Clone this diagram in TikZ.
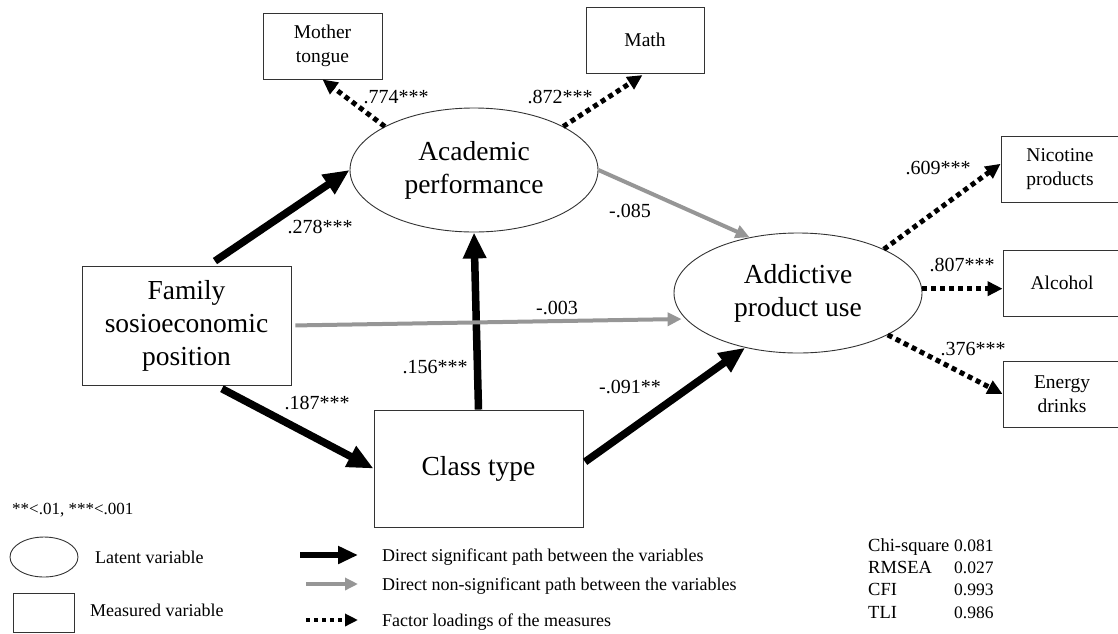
\documentclass[tikz,border=0pt]{standalone}
\usepackage{fontspec}
\setmainfont{Liberation Serif}
\usetikzlibrary{shapes.geometric,calc,arrows.meta}

\definecolor{pathgray}{RGB}{150,150,150}
\newcommand{\sizemain}{\fontsize{27.5}{33}\selectfont}
\newcommand{\sizebox}{\fontsize{19.5}{24}\selectfont}
\newcommand{\sizelab}{\fontsize{20}{24}\selectfont}
\newcommand{\sizeleg}{\fontsize{18}{22}\selectfont}

\begin{document}
\begin{tikzpicture}[x=1pt,y=-1pt,
  latent/.style={ellipse,draw=black!80,line width=0.9pt,inner sep=0pt,align=center,font=\sizemain},
  measured/.style={rectangle,draw=black!80,line width=0.9pt,inner sep=0pt,align=center},
  sig/.style={line width=7.5pt,-{Triangle[length=26pt,width=22pt]}},
  nsig/.style={pathgray,line width=4pt,-{Triangle[length=14pt,width=13pt]}},
  load/.style={line width=5pt,dash pattern=on 5pt off 4pt,-{Triangle[length=15pt,width=14pt]}},
  lbl/.style={font=\sizelab,inner sep=0pt},
  key/.style={font=\sizeleg,anchor=base west,inner sep=0pt}]
\useasboundingbox (0,0) rectangle (1118,633);
\clip (0,0) rectangle (1118,633);

% variables
\node[latent,minimum width=248pt,minimum height=124pt] (ap) at (474,170) {Academic\\performance};
\node[latent,minimum width=248pt,minimum height=120pt] (add) at (798,293) {Addictive\\product use};
\node[measured,minimum width=209pt,minimum height=119pt,font=\sizemain] (fsp) at (186.5,325.5) {Family\\sosioeconomic\\position};
\node[measured,minimum width=209pt,minimum height=117pt,font=\sizemain] (ct) at (478.5,468.5) {Class type};
\node[measured,minimum width=119pt,minimum height=66pt,font=\sizebox] (mt) at (322.5,46) {Mother\\tongue};
\node[measured,minimum width=118pt,minimum height=66pt,font=\sizebox] (math) at (645,40) {Math};
\node[measured,minimum width=118pt,minimum height=66pt,font=\sizebox] (nic) at (1060,169) {Nicotine\\products};
\node[measured,minimum width=118pt,minimum height=66pt,font=\sizebox] (alc) at (1062,283) {Alcohol};
\node[measured,minimum width=118pt,minimum height=66pt,font=\sizebox] (en) at (1062,394) {Energy\\drinks};

% paths
\draw[sig,shorten <=8pt] (fsp.70) -- (ap.west);
\draw[sig,shorten <=7pt] (fsp.-64) -- (ct.west);
\draw[sig] (ct.north) -- (ap.south);
\draw[sig,shorten <=2pt] (ct.3) -- (add.226);
\draw[nsig] (ap.east) -- (add.131);
\draw[nsig,shorten <=4pt,shorten >=4pt] (fsp.east) -- (add.193);

% factor loadings
\draw[load] (ap.154) -- (mt.south);
\draw[load,shorten >=3pt] (ap.26) -- (math.south);
\draw[load] (add.27) -- (nic.175);
\draw[load] (add.2) -- (alc.west|-add.2);
\draw[load] (add.-25) -- (en.west);

\node[lbl] (l774) at (396,97) {.774***};
\node[lbl] (l872) at (560,97) {.872***};
\node[lbl] (l278) at (320,227) {.278***};
\node[lbl] (l085) at (630,211) {-.085};
\node[lbl] (l003) at (557,308) {-.003};
\node[lbl] (l156) at (435,367) {.156***};
\node[lbl] (l187) at (317,403) {.187***};
\node[lbl] (l091) at (630,387) {-.091**};
\node[lbl] (l609) at (938,168) {.609***};
\node[lbl] (l807) at (962,265) {.807***};
\node[lbl] (l376) at (973,349) {.376***};

% legend
\node[key,font=\fontsize{17}{20}\selectfont] (pkey) at (12,514) {**<.01, ***<.001};
\node[latent,minimum width=68pt,minimum height=40pt] (lkey) at (44,557) {};
\node[key] (ltxt) at (95,563) {Latent variable};
\node[measured,minimum width=61pt,minimum height=39pt] (mkey) at (43.5,612.5) {};
\node[key] (mtxt) at (90,616) {Measured variable};

\node[key] (t1) at (382,561) {Direct significant path between the variables};
\node[key] (t2) at (382,590) {Direct non-significant path between the variables};
\node[key] (t3) at (382,626) {Factor loadings of the measures};
\coordinate (k1) at (300,555);
\coordinate (k2) at (306,584);
\coordinate (k3) at (306,620);
\draw[line width=6pt,-{Triangle[length=20pt,width=17pt]}] (k1) -- ($(k1-|t1.west)+(-24,0)$);
\draw[pathgray,line width=4pt,-{Triangle[length=13pt,width=12pt]}] (k2) -- ($(k2-|t2.west)+(-24,0)$);
\draw[line width=4pt,dash pattern=on 4pt off 4pt,-{Triangle[length=13pt,width=12pt]}] (k3) -- ($(k3-|t3.west)+(-24,0)$);

% fit indices
\foreach \nm/\val [count=\i] in {Chi-square/0.081,RMSEA/0.027,CFI/0.993,TLI/0.986} {
  \node[key,font=\fontsize{18.5}{20}\selectfont] (fitn\i) at (868,528.6+22.4*\i) {\nm};
  \node[key,font=\fontsize{17.5}{20}\selectfont] (fitv\i) at (954,528.6+22.4*\i) {\val};
}
\end{tikzpicture}
\end{document}
